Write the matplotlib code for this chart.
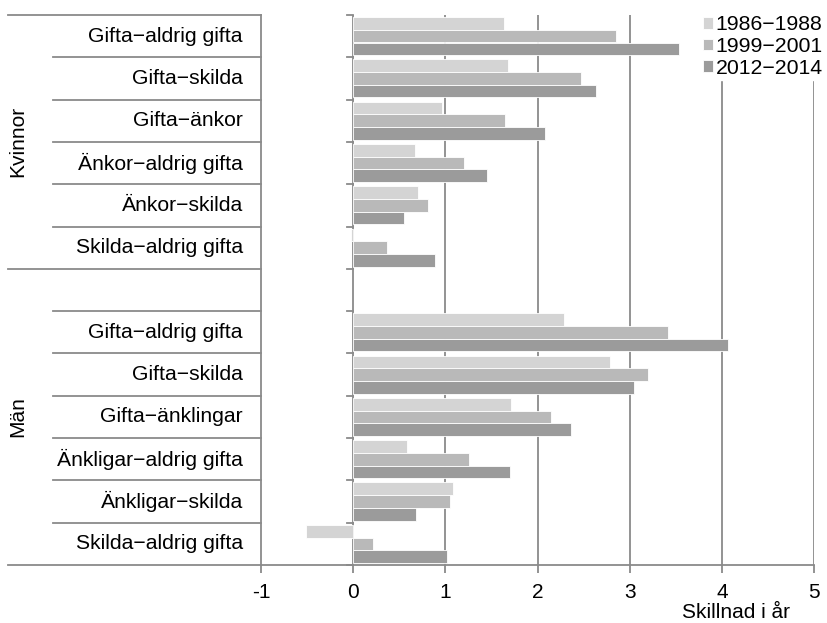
import matplotlib.pyplot as plt

plt.rcParams["font.family"] = ["Liberation Sans", "DejaVu Sans"]

kvinnor = [
    "Gifta\u2212aldrig gifta",
    "Gifta\u2212skilda",
    "Gifta\u2212änkor",
    "Änkor\u2212aldrig gifta",
    "Änkor\u2212skilda",
    "Skilda\u2212aldrig gifta",
]
man = [
    "Gifta\u2212aldrig gifta",
    "Gifta\u2212skilda",
    "Gifta\u2212änklingar",
    "Änkligar\u2212aldrig gifta",
    "Änkligar\u2212skilda",
    "Skilda\u2212aldrig gifta",
]
periods = ["1986\u22121988", "1999\u22122001", "2012\u22122014"]

# values per period: Kvinnor (6) then Män (6)
v1986 = [1.64, 1.68, 0.96, 0.67, 0.70, -0.02, 2.29, 2.79, 1.71, 0.58, 1.08, -0.51]
v1999 = [2.85, 2.47, 1.65, 1.20, 0.81, 0.37, 3.42, 3.20, 2.15, 1.26, 1.05, 0.21]
v2012 = [3.54, 2.64, 2.08, 1.45, 0.55, 0.89, 4.07, 3.05, 2.36, 1.70, 0.68, 1.02]

colors = ["#d4d4d4", "#b9b9b9", "#9b9b9b"]
grid_c = "#8a8a8a"

# slot positions: 6 Kvinnor, one empty, 6 Män
slots = list(range(6)) + list(range(7, 13))
labels = kvinnor + man

fig = plt.figure(figsize=(8.27, 6.23), dpi=100)
ax = fig.add_axes([261 / 827, 1 - 565 / 623, 553 / 827, 550 / 623])

h = 0.3
for k, vals in enumerate([v1986, v1999, v2012]):
    ys = [s + 0.5 + (k - 1) * h for s in slots]
    ax.barh(ys, vals, height=h, color=colors[k], edgecolor="white",
            linewidth=0.6, label=periods[k], zorder=3)

for x in range(0, 6):
    ax.axvline(x, color=grid_c, lw=1.3, zorder=2)

ax.set_xlim(-1, 5)
ax.set_ylim(13, 0)
ax.set_xticks(range(-1, 6))
ax.set_xticklabels(["-1", "0", "1", "2", "3", "4", "5"])
ax.set_yticks([])
ax.tick_params(axis="x", length=6, width=1.3, color=grid_c, labelsize=15, pad=7)
for s in ["top", "right"]:
    ax.spines[s].set_visible(False)
for s in ["left", "bottom"]:
    ax.spines[s].set_color(grid_c)
    ax.spines[s].set_linewidth(1.3)

# table on the left side
x_outer = (8 - 261) / 553
x_inner = (53 - 261) / 553
tr = ax.get_yaxis_transform()
for b in range(14):
    x0 = x_outer if b in (0, 6, 13) else x_inner
    ax.plot([x0, 0], [b, b], color=grid_c, lw=1.3, transform=tr, clip_on=False)
    ax.plot([-0.065, 0], [b, b], color=grid_c, lw=1.3, zorder=4, clip_on=False)

lab_x = (243 - 261) / 553
for s, lab in zip(slots, labels):
    ax.text(lab_x, s + 0.5, lab, transform=tr, ha="right", va="center", fontsize=15.2)

ax.text((18 - 261) / 553, 3, "Kvinnor", transform=tr, rotation=90,
        ha="center", va="center", fontsize=15)
ax.text((18 - 261) / 553, 9.5, "Män", transform=tr, rotation=90,
        ha="center", va="center", fontsize=15)

fig.text(736 / 827, 1 - 613 / 623, "Skillnad i år", ha="center", va="center", fontsize=15)

leg = ax.legend(loc="upper right", bbox_to_anchor=(1.02, 1.003), frameon=True,
                fontsize=15.3, handlelength=0.45, handleheight=0.45,
                handletextpad=0.15, labelspacing=0.12, borderpad=0.1,
                borderaxespad=0)
leg.get_frame().set_edgecolor("white")
leg.get_frame().set_facecolor("white")
leg.get_frame().set_alpha(1)
leg.set_zorder(5)

fig.savefig("out.png", dpi=100)
